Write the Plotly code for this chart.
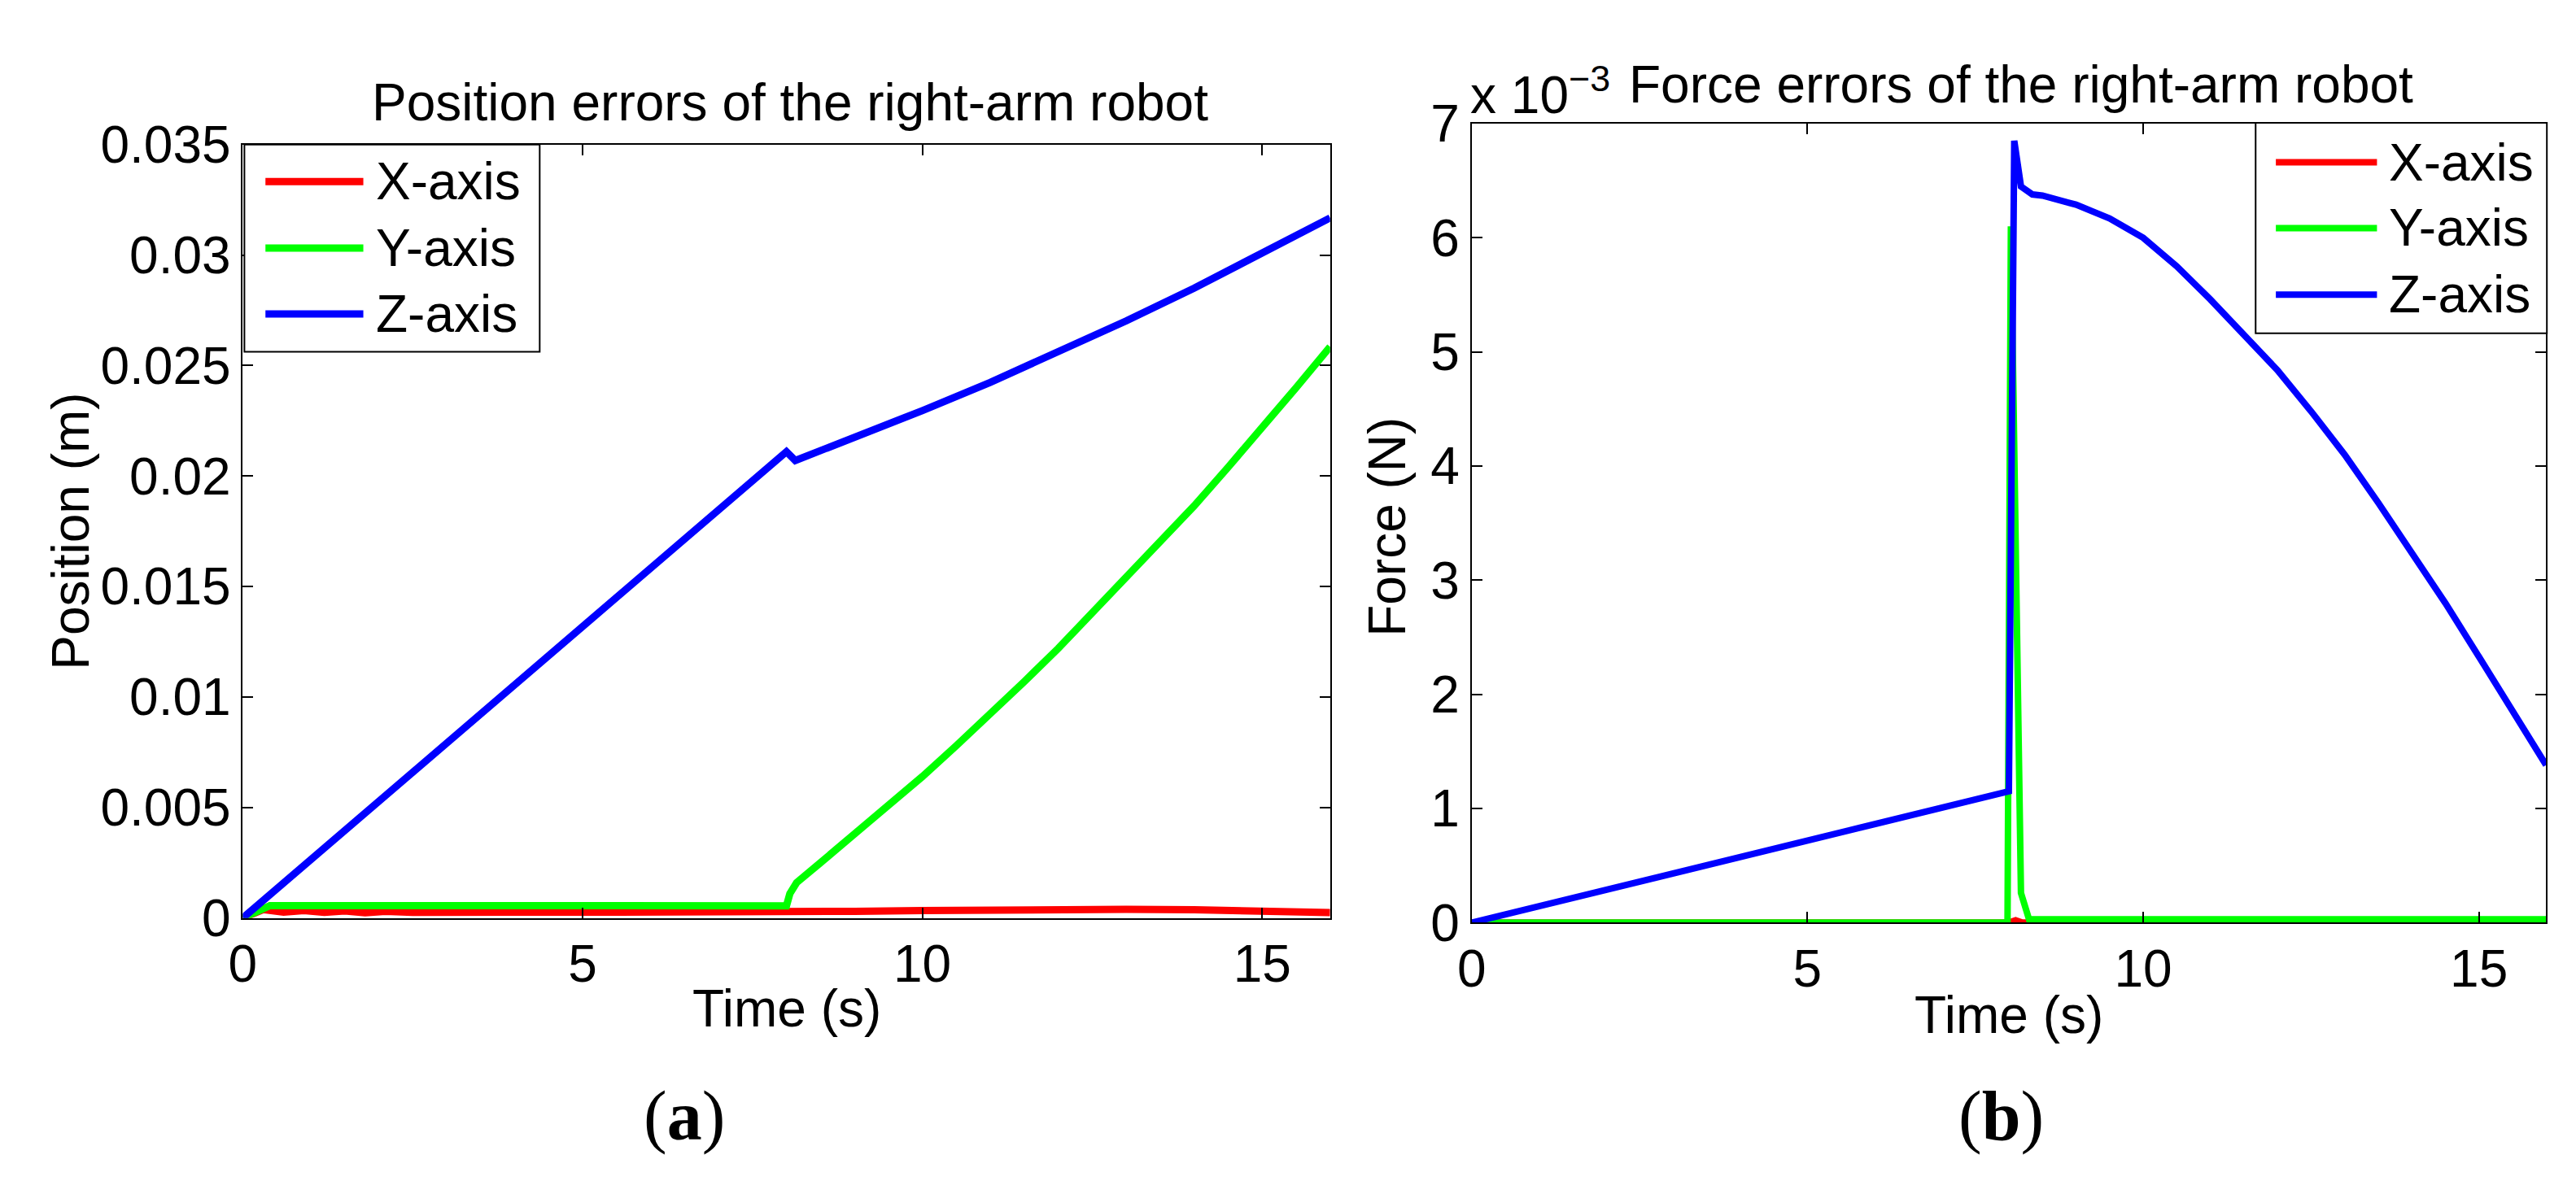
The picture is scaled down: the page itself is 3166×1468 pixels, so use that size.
import plotly.graph_objects as go

W, H = 3166, 1468

# ── Data: (a) position errors (m) ────────────────────────────────────────────
pos_x_t = [0, 0.3, 0.6, 0.9, 1.2, 1.5, 1.8, 2.1, 2.5, 3, 4, 5, 6, 7, 8,
           9, 10, 11, 12, 13, 14, 15, 16]
pos_x_v = [0, 0.00038, 0.00026, 0.00034, 0.00025, 0.00032, 0.00024, 0.00030,
           0.00025, 0.00028, 0.00026, 0.00026, 0.00025, 0.00025, 0.00026,
           0.00030, 0.00034, 0.00037, 0.00039, 0.00039, 0.00037, 0.00032, 0.00024]

pos_y_t = [0, 0.4, 2, 4, 6, 8.0, 8.05, 8.15, 8.5, 9, 9.5, 10, 10.5, 11, 11.5,
           12, 12.5, 13, 13.5, 14, 14.5, 15, 15.5, 16]
pos_y_v = [0, 0.00056, 0.00056, 0.00055, 0.00055, 0.00055, 0.0011, 0.0016,
           0.0025, 0.00377, 0.0051, 0.0064, 0.0078, 0.0092, 0.0107, 0.0122,
           0.0138, 0.01535, 0.0170, 0.01865, 0.0204, 0.02215, 0.0240, 0.02585]

pos_z_t = [0, 8.0, 8.13, 9, 10, 11, 12, 13, 14, 15, 16]
pos_z_v = [0, 0.0211, 0.0207, 0.02174, 0.02296, 0.02424, 0.02560, 0.02702,
           0.02850, 0.03005, 0.03168]

# ── Data: (b) force errors (x 10^-3 N) ───────────────────────────────────────
frc_x_t = [0, 8.0, 8.1, 8.2, 16]
frc_x_v = [0, 0, 0.02, 0, 0]

frc_y_t = [0, 7.98, 8.03, 8.18, 8.3, 10, 12, 14, 16]
frc_y_v = [0, 0, 6.1, 0.26, 0.03, 0.03, 0.03, 0.03, 0.03]

frc_z_t = [0, 8.0, 8.08, 8.18, 8.35, 8.5, 9, 9.5, 10, 10.5, 11, 11.5, 12,
           12.5, 13, 13.5, 14, 14.5, 15, 15.5, 16]
frc_z_v = [0, 1.15, 6.85, 6.45, 6.38, 6.37, 6.29, 6.17, 6.0, 5.75, 5.46, 5.15,
           4.84, 4.48, 4.10, 3.68, 3.25, 2.80, 2.33, 1.86, 1.38]

series_names = ["X-axis", "Y-axis", "Z-axis"]
series_colors = ["#ff0000", "#00ff00", "#0000ff"]

pos_ticks = [0, 0.005, 0.01, 0.015, 0.02, 0.025, 0.03, 0.035]
pos_ticktext = ["0", "0.005", "0.01", "0.015", "0.02", "0.025", "0.03", "0.035"]
frc_ticks = [0, 1, 2, 3, 4, 5, 6, 7]
time_ticks = [0, 5, 10, 15]

SANS = "Liberation Sans, Arial, sans-serif"
SERIF = "Liberation Serif, Times New Roman, serif"
FS = 64
LW = 9


def px(x):
    return x / W


def py(y):
    return 1 - y / H


fig = go.Figure()

left = [(pos_x_t, pos_x_v), (pos_y_t, pos_y_v), (pos_z_t, pos_z_v)]
right = [(frc_x_t, frc_x_v), (frc_y_t, frc_y_v), (frc_z_t, frc_z_v)]

for (t, v), name, col in zip(left, series_names, series_colors):
    fig.add_trace(go.Scatter(x=t, y=v, mode="lines", name=name,
                             line=dict(color=col, width=LW),
                             xaxis="x", yaxis="y", showlegend=False))
for (t, v), name, col in zip(right, series_names, series_colors):
    fig.add_trace(go.Scatter(x=t, y=v, mode="lines", name=name,
                             line=dict(color=col, width=LW - 1),
                             xaxis="x2", yaxis="y2", showlegend=False))

axis_common = dict(
    showline=True, linecolor="black", linewidth=2, mirror="ticks",
    ticks="inside", ticklen=13, tickwidth=2, tickcolor="black",
    showgrid=False, zeroline=False,
    tickfont=dict(family=SANS, size=FS, color="black"),
)

fig.update_layout(
    width=W, height=H, autosize=False,
    margin=dict(l=0, r=0, t=0, b=0),
    paper_bgcolor="white", plot_bgcolor="white",
    showlegend=False,
    xaxis=dict(domain=[px(282), px(1626)], range=[0, 16], tickvals=time_ticks,
               anchor="y", **axis_common),
    yaxis=dict(domain=[py(1149), py(149)], range=[0, 0.035], tickvals=pos_ticks,
               ticktext=pos_ticktext, anchor="x", **axis_common),
    xaxis2=dict(domain=[px(1801), px(3129)], range=[0, 16], tickvals=time_ticks,
                anchor="y2", **axis_common),
    yaxis2=dict(domain=[py(1155), py(122)], range=[0, 7], tickvals=frc_ticks,
                anchor="x2", **axis_common),
)

# ── Texts ─────────────────────────────────────────────────────────────────────
def text(x, y, s, size=FS, family=SANS, angle=0, xanchor="center"):
    fig.add_annotation(x=px(x), y=py(y), xref="paper", yref="paper", text=s,
                       showarrow=False, textangle=angle, xanchor=xanchor,
                       yanchor="middle", font=dict(family=family, size=size,
                                                   color="black"))


text(958, 95, "Position errors of the right-arm robot")
text(2480, 72, "Force errors of the right-arm robot")
text(1797, 80, "x 10<sup>−3</sup>", xanchor="left")
text(954, 1266, "Time (s)")
text(2465, 1274, "Time (s)")
text(70, 649, "Position (m)", angle=-90)
text(1697, 643, "Force (N)", angle=-90)
text(828, 1405, "(<b>a</b>)", size=86, family=SERIF)
text(2455, 1405, "(<b>b</b>)", size=86, family=SERIF)

# ── Legends (MATLAB-style boxes) ─────────────────────────────────────────────
def legend_box(x0, y0, x1, y1, line_x0, line_x1, text_x, rows, lw):
    fig.add_shape(type="rect", xref="paper", yref="paper",
                  x0=px(x0), x1=px(x1), y0=py(y0), y1=py(y1),
                  line=dict(color="black", width=2), fillcolor="white")
    for yy, name, col in zip(rows, series_names, series_colors):
        fig.add_shape(type="line", xref="paper", yref="paper",
                      x0=px(line_x0), x1=px(line_x1), y0=py(yy), y1=py(yy),
                      line=dict(color=col, width=lw))
        text(text_x, yy, name, xanchor="left")


legend_box(284, 149, 649, 417, 310, 431, 445, [197, 283, 368], LW)
legend_box(2770, 121, 3130, 393, 2795, 2920, 2933, [172, 257, 343], LW - 1)

fig.write_html("out.html", config={"displayModeBar": False},
               post_script="document.body.style.margin='0';")
